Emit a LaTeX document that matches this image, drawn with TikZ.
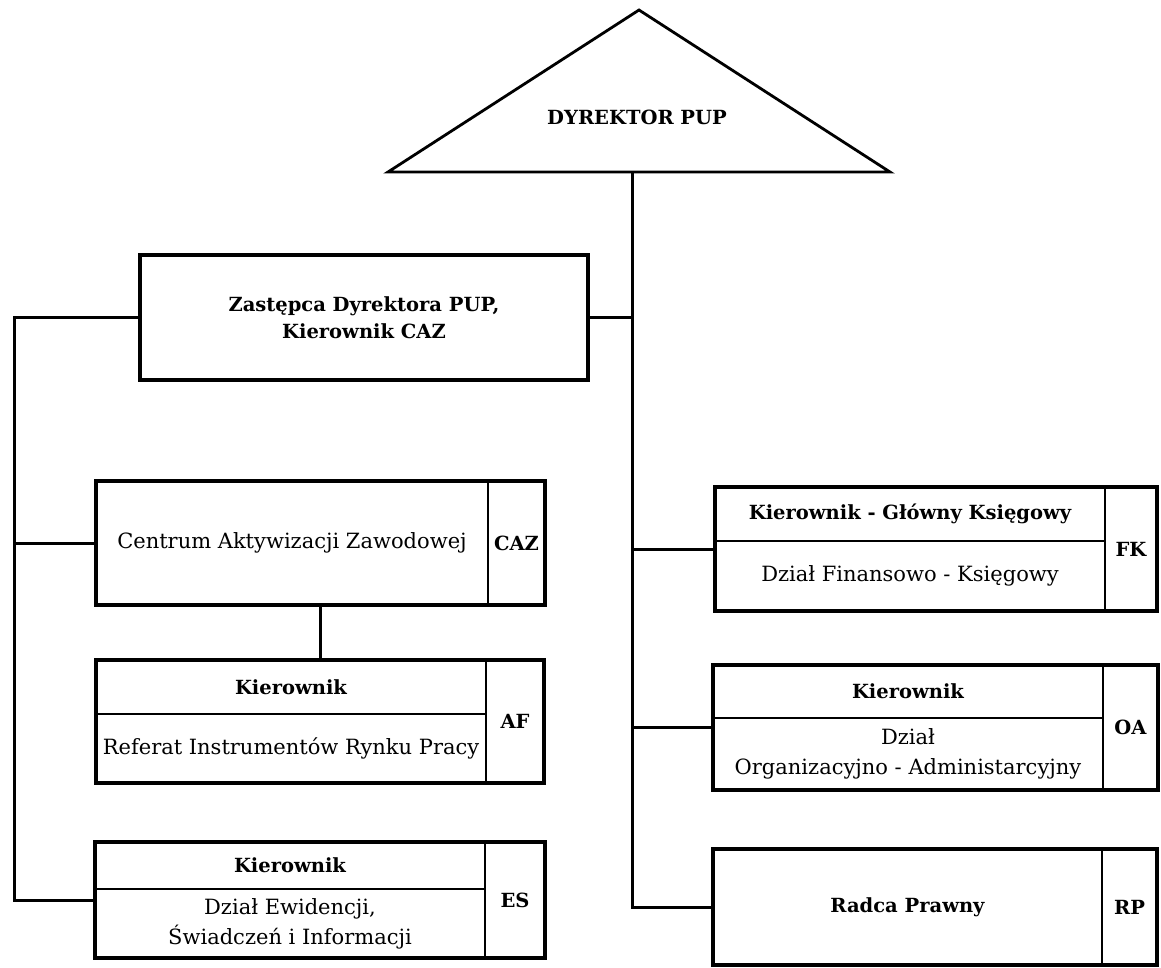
\documentclass[tikz,border=0pt]{standalone}
\usepackage{fontspec}
\setmainfont{DejaVu Serif}
\usetikzlibrary{positioning,fit}
\tikzset{
cellbox/.style={
  rectangle,
  draw=black,
  line width=1.8pt,
  inner sep=0pt,
  outer sep=0pt,
  align=center,
  font=\fontsize{21}{30}\selectfont,
  }
}
\tikzset{
framebox/.style={
  rectangle,
  draw=black,
  line width=3.4pt,
  inner sep=0pt,
  outer sep=0pt,
  }
}
\tikzset{
headtext/.style={
  font=\fontsize{19.5}{27}\selectfont\bfseries,
  }
}
\tikzset{
myline/.style={
  line width=3pt,
  }
}

\begin{document}
\begin{tikzpicture}[x=1pt,y=-1pt]
    \useasboundingbox (0,0) rectangle (1161,967);

    % director part
    \coordinate (apex) at (639,10);
    \coordinate (base_l) at (388,172);
    \coordinate (base_r) at (890,172);
    \draw[line width=2.8pt] (apex) -- (base_l) -- (base_r) -- cycle;
    \node[headtext] (dyr) at (637,117) {DYREKTOR PUP};
    \coordinate (dyr_base) at (632,172);

    % deputy part
    \node[framebox, headtext, align=center, minimum width=448pt, minimum height=125pt] (zast) at (364,317.5) {Zastępca Dyrektora PUP,\\Kierownik CAZ};
    \coordinate (trunk_l) at (14,317.5);

    % left column
    \node[cellbox, minimum width=392pt, minimum height=124pt] (caz) at (292,543) {Centrum Aktywizacji Zawodowej};
    \node[cellbox, headtext, minimum width=57pt, minimum height=124pt, right=0pt of caz] (caz_k) {CAZ};
    \node[framebox, fit=(caz)(caz_k)] (caz_f) {};

    \node[cellbox, headtext, minimum width=390pt, minimum height=54pt] (af_head) at (291,687) {Kierownik};
    \node[cellbox, minimum width=390pt, minimum height=69pt, below=0pt of af_head] (af_body) {Referat Instrumentów Rynku Pracy};
    \node[cellbox, headtext, minimum width=58pt, minimum height=123pt, anchor=north west] (af_k) at (af_head.north east) {AF};
    \node[framebox, fit=(af_head)(af_body)(af_k)] (af_f) {};

    \node[cellbox, headtext, minimum width=390pt, minimum height=47pt] (es_head) at (290,865.5) {Kierownik};
    \node[cellbox, minimum width=390pt, minimum height=69pt, below=0pt of es_head] (es_body) {Dział Ewidencji,\\Świadczeń i Informacji};
    \node[cellbox, headtext, minimum width=60pt, minimum height=116pt, anchor=north west] (es_k) at (es_head.north east) {ES};
    \node[framebox, fit=(es_head)(es_body)(es_k)] (es_f) {};

    % right column
    \node[cellbox, headtext, minimum width=390pt, minimum height=54pt] (fk_head) at (910,514) {Kierownik - Główny Księgowy};
    \node[cellbox, minimum width=390pt, minimum height=70pt, below=0pt of fk_head] (fk_body) {Dział Finansowo - Księgowy};
    \node[cellbox, headtext, minimum width=52pt, minimum height=124pt, anchor=north west] (fk_k) at (fk_head.north east) {FK};
    \node[framebox, fit=(fk_head)(fk_body)(fk_k)] (fk_f) {};

    \node[cellbox, headtext, minimum width=390pt, minimum height=53pt] (oa_head) at (908,691.5) {Kierownik};
    \node[cellbox, minimum width=390pt, minimum height=72pt, below=0pt of oa_head] (oa_body) {Dział\\Organizacyjno - Administarcyjny};
    \node[cellbox, headtext, minimum width=55pt, minimum height=125pt, anchor=north west] (oa_k) at (oa_head.north east) {OA};
    \node[framebox, fit=(oa_head)(oa_body)(oa_k)] (oa_f) {};

    \node[cellbox, headtext, minimum width=389pt, minimum height=116pt] (rp) at (907.5,907) {Radca Prawny};
    \node[cellbox, headtext, minimum width=55pt, minimum height=116pt, right=0pt of rp] (rp_k) {RP};
    \node[framebox, fit=(rp)(rp_k)] (rp_f) {};

    % main trunk edges
    \draw[myline] (dyr_base) -- (dyr_base |- rp_f.west) -- (rp_f.west);
    \draw[myline] (zast.east) -- (zast.east -| dyr_base);
    \draw[myline] (fk_f.west) -- (fk_f.west -| dyr_base);
    \draw[myline] (oa_f.west) -- (oa_f.west -| dyr_base);

    % left trunk edges
    \draw[myline] (zast.west) -- (trunk_l) |- (es_f.west);
    \draw[myline] (caz_f.west) -- (caz_f.west -| trunk_l);
    \draw[myline] (caz_f.south) -- (caz_f.south |- af_f.north);
\end{tikzpicture}
\end{document}
